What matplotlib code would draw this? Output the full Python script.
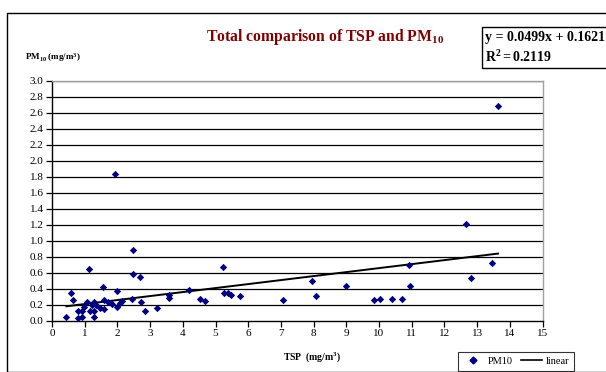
import matplotlib
matplotlib.use("Agg")
import matplotlib.pyplot as plt
from matplotlib.patches import Rectangle
from matplotlib.lines import Line2D
import numpy as np

plt.rcParams['font.family'] = ['Liberation Serif', 'DejaVu Serif']
plt.rcParams['mathtext.fontset'] = 'custom'
plt.rcParams['mathtext.rm'] = 'Liberation Serif'
plt.rcParams['mathtext.it'] = 'Liberation Serif:italic'
plt.rcParams['mathtext.bf'] = 'Liberation Serif:bold'

# Data (TSP vs PM10, mg/m3)
tsp = [0.44, 0.57, 0.65, 0.78, 0.80, 0.91, 0.93, 0.99, 1.06, 1.13, 1.16, 1.21,
       1.29, 1.29, 1.29, 1.36, 1.47, 1.57, 1.60, 1.60, 1.72, 1.82, 1.93, 2.00,
       2.00, 2.08, 2.15, 2.46, 2.47, 2.48, 2.68, 2.71, 2.84, 3.20, 3.58, 3.58,
       4.19, 4.52, 4.67, 5.24, 5.27, 5.37, 5.47, 5.76, 7.07, 7.96, 8.08, 8.98,
       9.84, 10.04, 10.41, 10.71, 10.92, 10.94, 12.67, 12.80, 13.46, 13.64]
pm10 = [0.05, 0.35, 0.26, 0.12, 0.04, 0.05, 0.12, 0.18, 0.24, 0.65, 0.12, 0.20,
        0.24, 0.12, 0.05, 0.20, 0.16, 0.42, 0.26, 0.15, 0.24, 0.21, 1.84, 0.37,
        0.17, 0.22, 0.25, 0.28, 0.89, 0.59, 0.55, 0.24, 0.13, 0.16, 0.32, 0.29,
        0.39, 0.27, 0.25, 0.67, 0.35, 0.35, 0.33, 0.31, 0.26, 0.50, 0.31, 0.44,
        0.26, 0.27, 0.27, 0.28, 0.70, 0.44, 1.21, 0.54, 0.73, 2.69]
slope = 0.0499
intercept = 0.1621
r2 = 0.2119

W, H = 606, 372
fig = plt.figure(figsize=(W / 100, H / 100), dpi=100)

# outer chart frame
fig.patches.append(Rectangle((7 / W, 0), 2, (H - 13) / H, transform=fig.transFigure,
                             fill=False, edgecolor='#000000', linewidth=1.0))

L, R, T, B = 52, 542.5, 81, 321
ax = fig.add_axes([L / W, (H - B) / H, (R - L) / W, (B - T) / H])

ax.scatter(tsp, pm10, marker='D', s=14, color='#000080', zorder=3, linewidths=0)
xl = np.array([min(tsp), max(tsp)])
ax.plot(xl, slope * xl + intercept, color='black', linewidth=1.4, zorder=2)

ax.set_xlim(0, 15)
ax.set_ylim(0, 3.0)
ax.set_xticks(range(0, 16))
ax.set_yticks(np.round(np.arange(0, 3.01, 0.2), 1))
ax.set_yticklabels([f"{v:.1f}" for v in np.arange(0, 3.01, 0.2)])
for y in np.arange(0.2, 3.01, 0.2):
    ax.axhline(y, color='black', linewidth=0.9, zorder=1)
ax.tick_params(axis='both', direction='out', length=4, width=0.9, labelsize=8, pad=2)
ax.spines['left'].set_color('black')
ax.spines['bottom'].set_color('black')
ax.spines['right'].set_color('#a0a0a0')
ax.spines['top'].set_color('#a0a0a0')
for s in ax.spines.values():
    s.set_linewidth(1.0)

fig.text(325 / W, 1 - 37 / H, r'$\mathbf{Total\ comparison\ of\ TSP\ and\ PM}_{\mathbf{10}}$',
         ha='center', va='center', fontsize=11.3, color='#800000')
fig.text(25 / W, 1 - 57 / H, r'$\mathbf{PM}_{\mathbf{10}}\ \mathbf{(mg/m}^{\mathbf{3}}\mathbf{)}$',
         ha='left', va='center', fontsize=6.5, color='black')
fig.text(312 / W, 1 - 357 / H, r'$\mathbf{TSP\ \ (mg/m}^{\mathbf{3}}\mathbf{)}$',
         ha='center', va='center', fontsize=7, color='black')

# equation box
fig.patches.append(Rectangle((482 / W, 1 - 68 / H), 0.5, 41 / H, transform=fig.transFigure,
                             fill=False, edgecolor='black', linewidth=1.0))
fig.text(485 / W, 1 - 38 / H, f"y = {slope}x + {intercept}", ha='left', va='center',
         fontsize=10, fontweight='bold')
fig.text(485 / W, 1 - 57 / H, r'$\mathbf{R}^{\mathbf{2}}\mathbf{=' + f"{r2}" + r'}$', ha='left', va='center',
         fontsize=10)

# legend
handles = [Line2D([], [], marker='D', color='#000080', linestyle='none', markersize=3.5),
           Line2D([], [], color='black', linewidth=1.2)]
leg = fig.legend(handles, ['PM10', 'linear'], loc='upper left',
                 bbox_to_anchor=(458 / W, 1 - 352 / H), ncol=2, fontsize=7.5,
                 frameon=True, fancybox=False, edgecolor='black', handlelength=2.0,
                 handletextpad=0.4, columnspacing=0.8, borderpad=0.45, borderaxespad=0)
leg.get_frame().set_linewidth(0.8)

fig.savefig('out.png', dpi=100)
